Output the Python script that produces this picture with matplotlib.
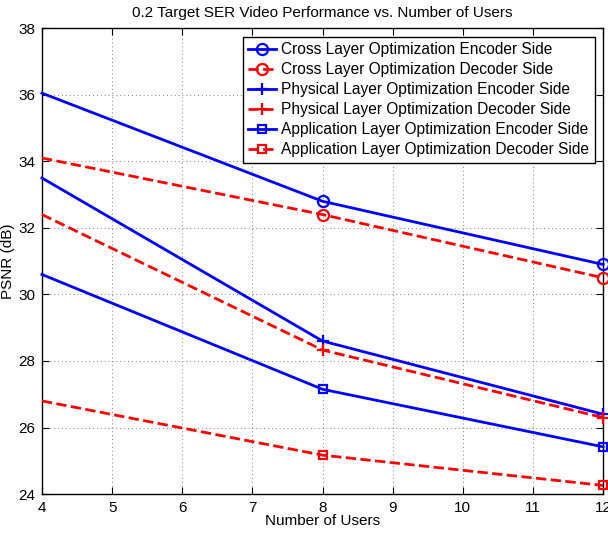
import matplotlib
matplotlib.use('Agg')
import matplotlib.pyplot as plt

users = [4, 8, 12]
cross_enc = [36.05, 32.8, 30.9]
cross_dec = [34.1, 32.4, 30.5]
phys_enc = [33.5, 28.6, 26.4]
phys_dec = [32.4, 28.33, 26.3]
app_enc = [30.6, 27.15, 25.42]
app_dec = [26.8, 25.17, 24.26]

labels = ['Cross Layer Optimization Encoder Side',
          'Cross Layer Optimization Decoder Side',
          'Physical Layer Optimization Encoder Side',
          'Physical Layer Optimization Decoder Side',
          'Application Layer Optimization Encoder Side',
          'Application Layer Optimization Decoder Side']

plt.rcParams['font.family'] = ['Liberation Sans', 'DejaVu Sans']
plt.rcParams['font.size'] = 11

fig = plt.figure(figsize=(6.08, 5.33), dpi=100)
ax = fig.add_axes([0.069, 0.073, 0.923, 0.874])

series = [cross_enc, cross_dec, phys_enc, phys_dec, app_enc, app_dec]
markers = ['o', 'o', '+', '+', 's', 's']
for i, ys in enumerate(series):
    enc = i % 2 == 0
    col = 'blue' if enc else 'red'
    ls = '-' if enc else '--'
    ms = 8 if markers[i] == 'o' else (9 if markers[i] == '+' else 6)
    # markers only on the 8 and 12 user points, like the original
    ax.plot(users, ys, color=col, linestyle=ls, linewidth=2, marker=markers[i],
            markevery=[1, 2], markersize=ms, markerfacecolor='none',
            markeredgecolor=col, markeredgewidth=1.6, label=labels[i],
            clip_on=False, zorder=3)

ax.set_xlim(4, 12)
ax.set_ylim(24, 38)
ax.set_xticks(range(4, 13))
ax.set_yticks(range(24, 39, 2))
ax.grid(True, linestyle=(0, (1, 3)), color='gray', linewidth=0.7)
ax.tick_params(direction='in', length=5, top=True, right=True, labelsize=11)
ax.tick_params(axis='y', pad=5)
ax.tick_params(axis='x', pad=5)
for s in ax.spines.values():
    s.set_linewidth(1.0)

ax.set_title('0.2 Target SER Video Performance vs. Number of Users', fontsize=11, pad=8)
ax.set_xlabel('Number of Users', fontsize=11, labelpad=-1)
ax.set_ylabel('PSNR (dB)', fontsize=11, labelpad=2)

leg = ax.legend(loc='upper right', fancybox=False, edgecolor='black', framealpha=1,
                fontsize=11.2, handlelength=1.8, labelspacing=0.32, borderpad=0.35,
                handletextpad=0.3, borderaxespad=0.55)
leg.get_frame().set_linewidth(1.0)

fig.savefig('out.png', dpi=100)
